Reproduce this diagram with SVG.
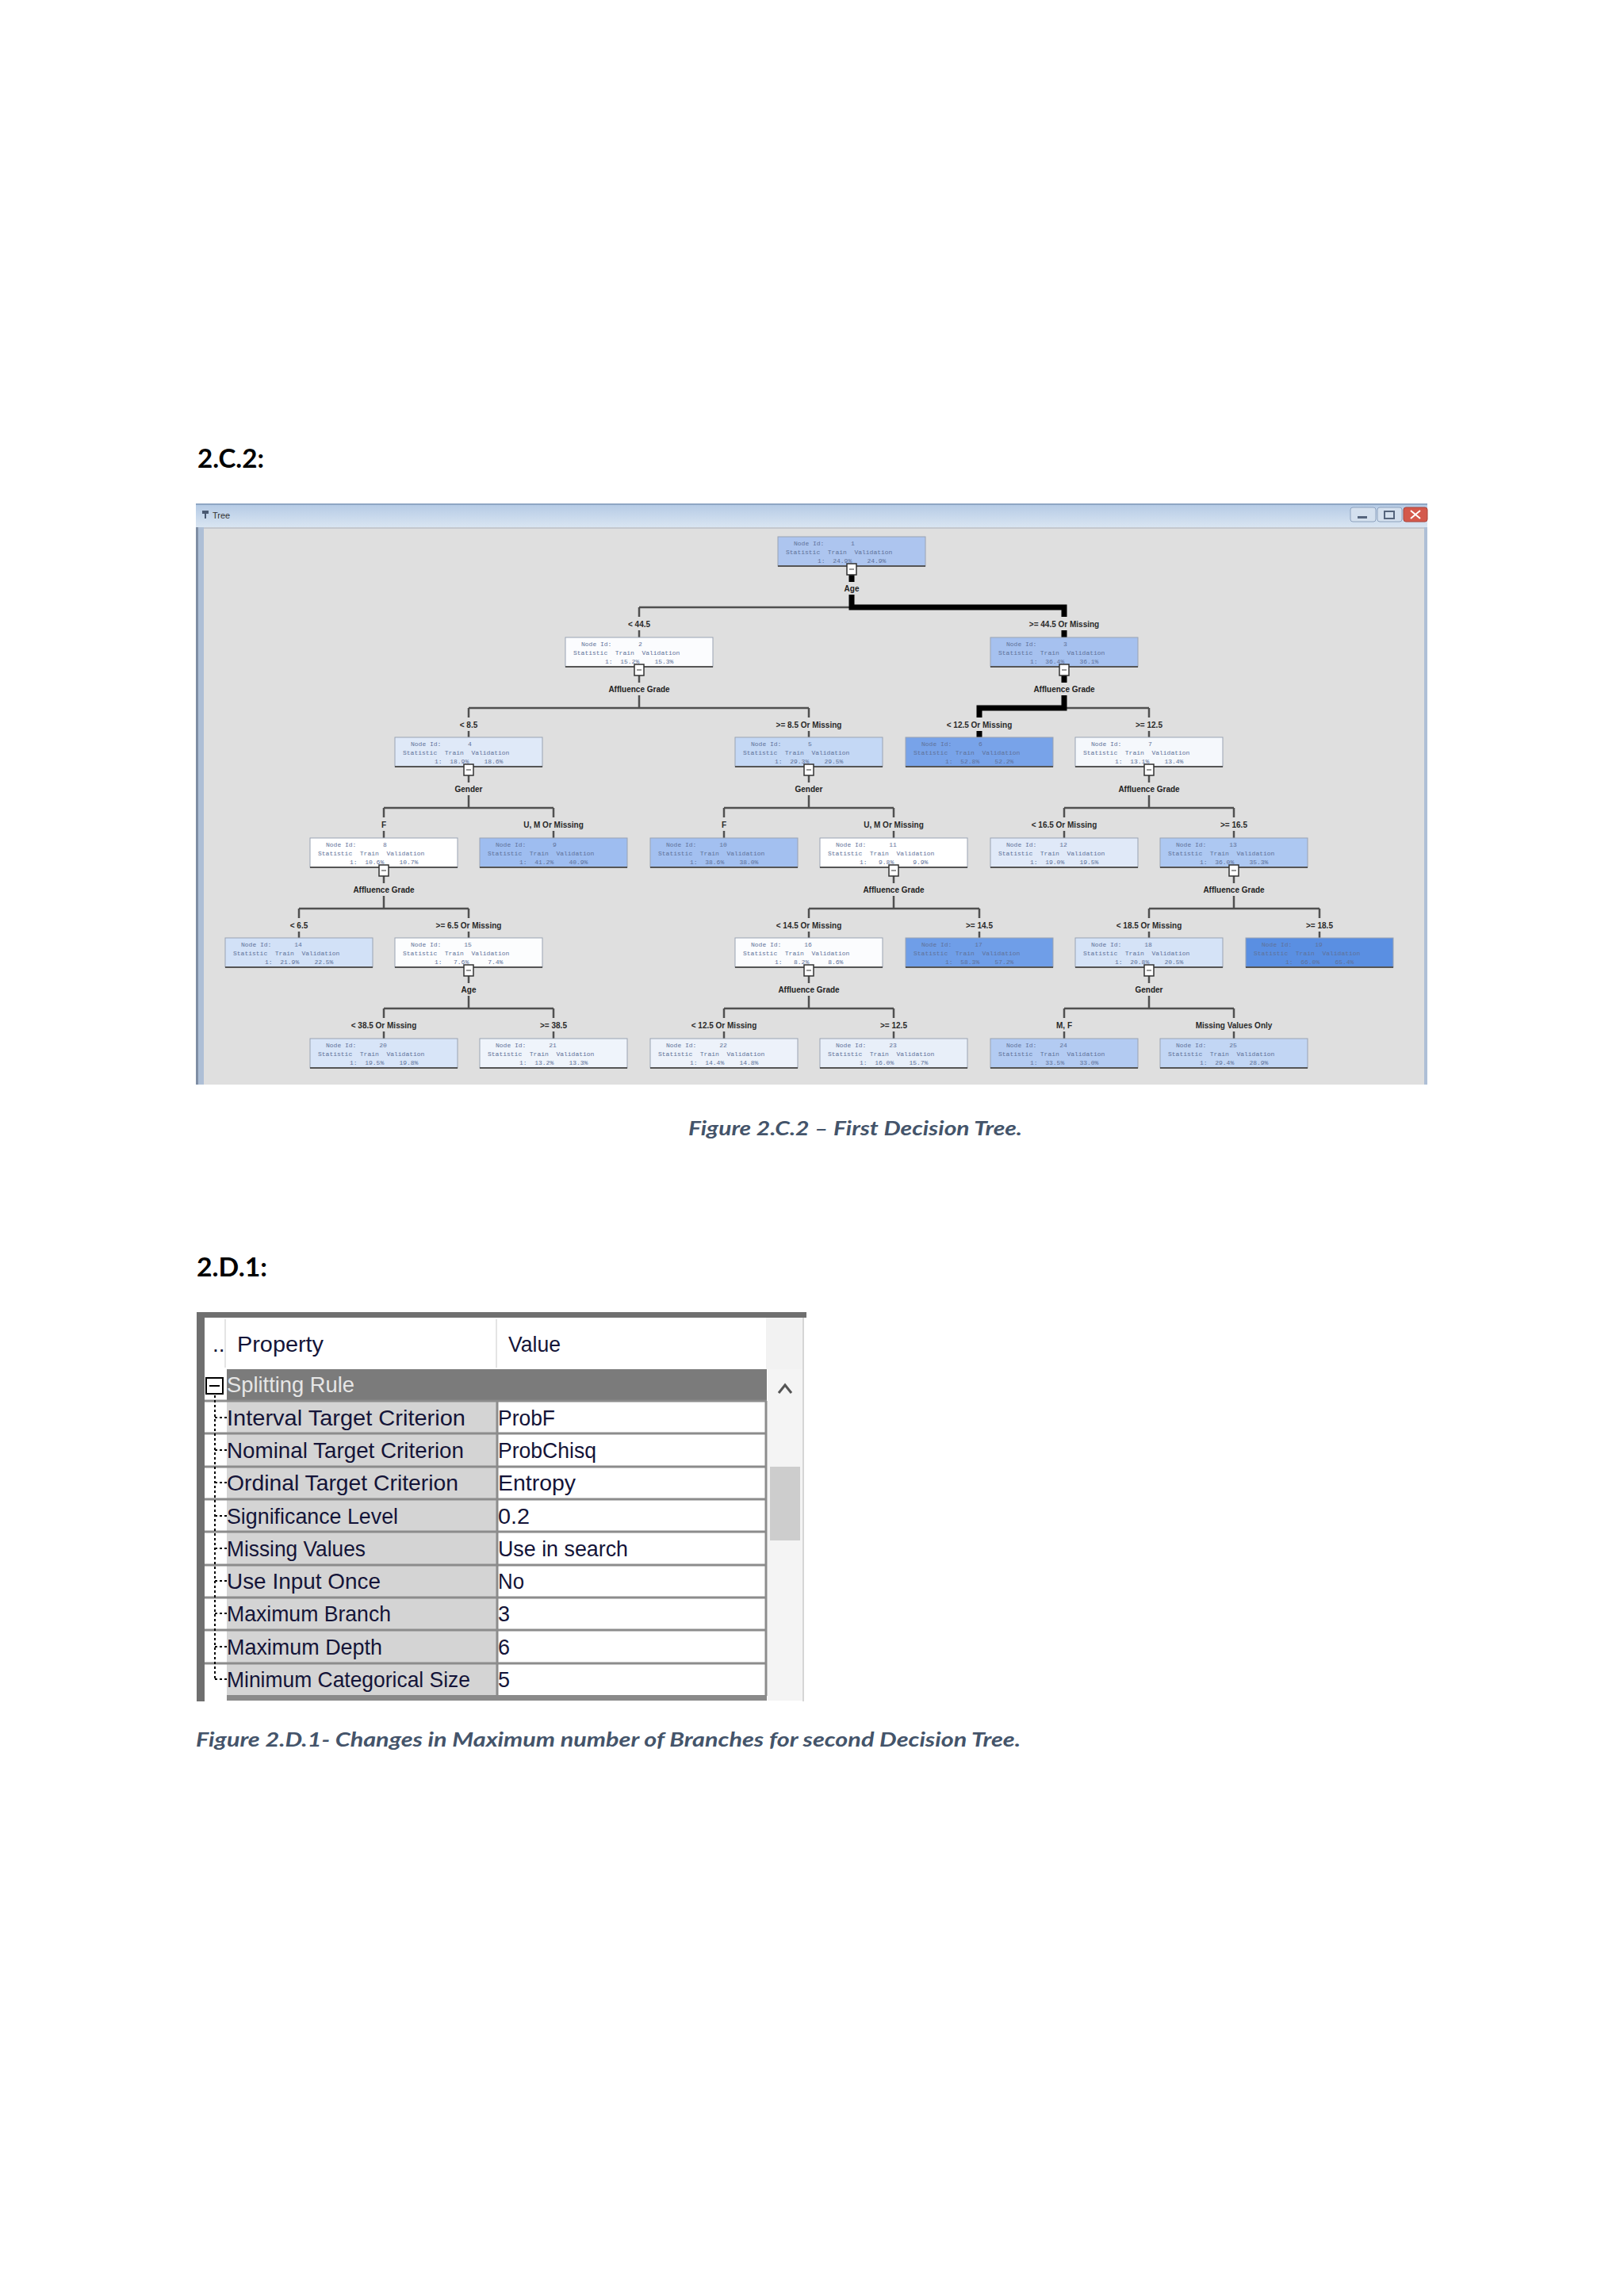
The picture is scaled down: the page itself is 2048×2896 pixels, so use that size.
<svg xmlns="http://www.w3.org/2000/svg" width="2048" height="2896" viewBox="0 0 2048 2896">
<defs>
<linearGradient id="tb" x1="0" y1="0" x2="0" y2="1"><stop offset="0" stop-color="#b3c9e4"/><stop offset="1" stop-color="#d9e5f2"/></linearGradient>
<style>
.h{font-family:Lato,"Open Sans","Liberation Sans",sans-serif;font-weight:bold;font-size:32px;fill:#000}
.cap{font-family:Lato,"Open Sans","Liberation Sans",sans-serif;font-weight:bold;font-style:italic;font-size:24px;fill:#44546A}
.node rect.b{stroke:#9aa3b3;stroke-width:1}
.nt{font-family:"Liberation Mono",monospace;font-size:8px;fill:#5f7299;white-space:pre}
.sl{font-family:"Liberation Sans",Arial,sans-serif;font-size:10px;font-weight:bold;fill:#222;text-anchor:middle}
.el{font-family:"Liberation Sans",Arial,sans-serif;font-size:10px;font-weight:bold;fill:#2a2a2a;text-anchor:middle}
.thin{fill:none;stroke:#505050;stroke-width:2.5}
.thick{fill:none;stroke:#000;stroke-width:7}
.tg{fill:#fff;stroke:#333;stroke-width:1.5}
.tt{font-family:"Liberation Sans",Arial,sans-serif;font-size:28px;fill:#141438}
.grid{stroke:#8c8c8c;stroke-width:3;fill:none}
.dot{stroke:#000;stroke-width:2;stroke-dasharray:3 3;fill:none}
</style>
</defs>
<rect width="2048" height="2896" fill="#fff"/>

<text class="h" x="249" y="590" textLength="84" lengthAdjust="spacingAndGlyphs">2.C.2:</text>

<!-- Tree window -->
<g id="tree-window">
<rect x="247" y="635" width="1553" height="733" fill="#aebfd6"/>
<rect x="247" y="635" width="1553" height="30" fill="url(#tb)"/>
<rect x="247" y="635" width="1553" height="2" fill="#8ea6c4"/>
<path d="M255 644h8v4h-3v6h-2v-6h-3z" fill="#4a5a72"/>
<text x="268" y="654" font-family="Liberation Sans,Arial,sans-serif" font-size="11" fill="#333">Tree</text>
<rect x="1703" y="640" width="32" height="18" rx="3" fill="#d4e0ee" stroke="#8fa3bf"/>
<rect x="1712" y="651" width="12" height="3" fill="#55657d"/>
<rect x="1737" y="640" width="31" height="18" rx="3" fill="#d4e0ee" stroke="#8fa3bf"/>
<rect x="1746" y="645" width="12" height="9" fill="none" stroke="#55657d" stroke-width="2"/>
<rect x="1770" y="640" width="30" height="18" rx="3" fill="#d4594c" stroke="#a8453a"/>
<path d="M1779 644l12 10M1791 644l-12 10" stroke="#fff" stroke-width="2"/>
<rect x="257" y="665" width="1539" height="703" fill="#dfdfdf"/>
<rect x="257" y="665" width="1539" height="2" fill="#c4c8ce"/>
<rect x="247" y="665" width="3" height="703" fill="#7f8ea4"/>
</g>

<g id="connectors">
<path class="thin" d="M1074 725V734M1074 750V766M806 766H1342M806 766V778M806 795V804M1342 766V778M1342 795V804"/>
<path class="thin" d="M806 852V861M806 877V893M591 893H1020M591 893V905M591 922V930M1020 893V905M1020 922V930"/>
<path class="thin" d="M1342 852V861M1342 877V893M1235 893H1449M1235 893V905M1235 922V930M1449 893V905M1449 922V930"/>
<path class="thin" d="M591 978V987M591 1003V1019M484 1019H698M484 1019V1031M484 1048V1057M698 1019V1031M698 1048V1057"/>
<path class="thin" d="M1020 978V987M1020 1003V1019M913 1019H1127M913 1019V1031M913 1048V1057M1127 1019V1031M1127 1048V1057"/>
<path class="thin" d="M1449 978V987M1449 1003V1019M1342 1019H1556M1342 1019V1031M1342 1048V1057M1556 1019V1031M1556 1048V1057"/>
<path class="thin" d="M484 1105V1114M484 1130V1146M377 1146H591M377 1146V1158M377 1175V1183M591 1146V1158M591 1175V1183"/>
<path class="thin" d="M1127 1105V1114M1127 1130V1146M1020 1146H1235M1020 1146V1158M1020 1175V1183M1235 1146V1158M1235 1175V1183"/>
<path class="thin" d="M1556 1105V1114M1556 1130V1146M1449 1146H1664M1449 1146V1158M1449 1175V1183M1664 1146V1158M1664 1175V1183"/>
<path class="thin" d="M591 1231V1240M591 1256V1272M484 1272H698M484 1272V1284M484 1301V1310M698 1272V1284M698 1301V1310"/>
<path class="thin" d="M1020 1231V1240M1020 1256V1272M913 1272H1127M913 1272V1284M913 1301V1310M1127 1272V1284M1127 1301V1310"/>
<path class="thin" d="M1449 1231V1240M1449 1256V1272M1342 1272H1556M1342 1272V1284M1342 1301V1310M1556 1272V1284M1556 1301V1310"/>
<path class="thick" d="M1074 725V734M1074 750V766H1342V778M1342 795V804M1342 852V861M1342 877V893H1235V905M1235 922V930"/>
<!-- split variable labels -->
<text class="sl" x="1074" y="746">Age</text>
<text class="sl" x="806" y="873">Affluence Grade</text>
<text class="sl" x="1342" y="873">Affluence Grade</text>
<text class="sl" x="591" y="999">Gender</text>
<text class="sl" x="1020" y="999">Gender</text>
<text class="sl" x="1449" y="999">Affluence Grade</text>
<text class="sl" x="484" y="1126">Affluence Grade</text>
<text class="sl" x="1127" y="1126">Affluence Grade</text>
<text class="sl" x="1556" y="1126">Affluence Grade</text>
<text class="sl" x="591" y="1252">Age</text>
<text class="sl" x="1020" y="1252">Affluence Grade</text>
<text class="sl" x="1449" y="1252">Gender</text>
<!-- branch labels -->
<text class="el" x="806" y="791">&lt; 44.5</text>
<text class="el" x="1342" y="791">&gt;= 44.5 Or Missing</text>
<text class="el" x="591" y="918">&lt; 8.5</text>
<text class="el" x="1020" y="918">&gt;= 8.5 Or Missing</text>
<text class="el" x="1235" y="918">&lt; 12.5 Or Missing</text>
<text class="el" x="1449" y="918">&gt;= 12.5</text>
<text class="el" x="484" y="1044">F</text>
<text class="el" x="698" y="1044">U, M Or Missing</text>
<text class="el" x="913" y="1044">F</text>
<text class="el" x="1127" y="1044">U, M Or Missing</text>
<text class="el" x="1342" y="1044">&lt; 16.5 Or Missing</text>
<text class="el" x="1556" y="1044">&gt;= 16.5</text>
<text class="el" x="377" y="1171">&lt; 6.5</text>
<text class="el" x="591" y="1171">&gt;= 6.5 Or Missing</text>
<text class="el" x="1020" y="1171">&lt; 14.5 Or Missing</text>
<text class="el" x="1235" y="1171">&gt;= 14.5</text>
<text class="el" x="1449" y="1171">&lt; 18.5 Or Missing</text>
<text class="el" x="1664" y="1171">&gt;= 18.5</text>
<text class="el" x="484" y="1297">&lt; 38.5 Or Missing</text>
<text class="el" x="698" y="1297">&gt;= 38.5</text>
<text class="el" x="913" y="1297">&lt; 12.5 Or Missing</text>
<text class="el" x="1127" y="1297">&gt;= 12.5</text>
<text class="el" x="1342" y="1297">M, F</text>
<text class="el" x="1556" y="1297">Missing Values Only</text>
</g>

<g id="nodes" xml:space="preserve">
<g id="n1" class="node"><rect class="b" x="981" y="677" width="186" height="37" fill="#adc5ef"/><path d="M981 714H1167" stroke="#555" stroke-width="2"/><text class="nt" x="1001" y="688">Node Id:       1</text><text class="nt" x="991" y="699">Statistic  Train  Validation</text><text class="nt" x="1031" y="710">1:  24.9%    24.9%</text><rect class="tg" x="1068" y="711" width="12" height="14"/><path d="M1071 718H1077" stroke="#333"/></g>
<g id="n2" class="node"><rect class="b" x="713" y="804" width="186" height="37" fill="#fbfcfe"/><path d="M713 841H899" stroke="#555" stroke-width="2"/><text class="nt" x="733" y="815">Node Id:       2</text><text class="nt" x="723" y="826">Statistic  Train  Validation</text><text class="nt" x="763" y="837">1:  15.2%    15.3%</text><rect class="tg" x="800" y="838" width="12" height="14"/><path d="M803 845H809" stroke="#333"/></g>
<g id="n3" class="node"><rect class="b" x="1249" y="804" width="186" height="37" fill="#a6c1ef"/><path d="M1249 841H1435" stroke="#555" stroke-width="2"/><text class="nt" x="1269" y="815">Node Id:       3</text><text class="nt" x="1259" y="826">Statistic  Train  Validation</text><text class="nt" x="1299" y="837">1:  36.4%    36.1%</text><rect class="tg" x="1336" y="838" width="12" height="14"/><path d="M1339 845H1345" stroke="#333"/></g>
<g id="n4" class="node"><rect class="b" x="498" y="930" width="186" height="37" fill="#dfe9f8"/><path d="M498 967H684" stroke="#555" stroke-width="2"/><text class="nt" x="518" y="941">Node Id:       4</text><text class="nt" x="508" y="952">Statistic  Train  Validation</text><text class="nt" x="548" y="963">1:  18.9%    18.6%</text><rect class="tg" x="585" y="964" width="12" height="14"/><path d="M588 971H594" stroke="#333"/></g>
<g id="n5" class="node"><rect class="b" x="927" y="930" width="186" height="37" fill="#c4d8f5"/><path d="M927 967H1113" stroke="#555" stroke-width="2"/><text class="nt" x="947" y="941">Node Id:       5</text><text class="nt" x="937" y="952">Statistic  Train  Validation</text><text class="nt" x="977" y="963">1:  29.3%    29.5%</text><rect class="tg" x="1014" y="964" width="12" height="14"/><path d="M1017 971H1023" stroke="#333"/></g>
<g id="n6" class="node"><rect class="b" x="1142" y="930" width="186" height="37" fill="#78a3e9"/><path d="M1142 967H1328" stroke="#555" stroke-width="2"/><text class="nt" x="1162" y="941">Node Id:       6</text><text class="nt" x="1152" y="952">Statistic  Train  Validation</text><text class="nt" x="1192" y="963">1:  52.8%    52.2%</text></g>
<g id="n7" class="node"><rect class="b" x="1356" y="930" width="186" height="37" fill="#f5f8fc"/><path d="M1356 967H1542" stroke="#555" stroke-width="2"/><text class="nt" x="1376" y="941">Node Id:       7</text><text class="nt" x="1366" y="952">Statistic  Train  Validation</text><text class="nt" x="1406" y="963">1:  13.1%    13.4%</text><rect class="tg" x="1443" y="964" width="12" height="14"/><path d="M1446 971H1452" stroke="#333"/></g>
<g id="n8" class="node"><rect class="b" x="391" y="1057" width="186" height="37" fill="#ffffff"/><path d="M391 1094H577" stroke="#555" stroke-width="2"/><text class="nt" x="411" y="1068">Node Id:       8</text><text class="nt" x="401" y="1079">Statistic  Train  Validation</text><text class="nt" x="441" y="1090">1:  10.6%    10.7%</text><rect class="tg" x="478" y="1091" width="12" height="14"/><path d="M481 1098H487" stroke="#333"/></g>
<g id="n9" class="node"><rect class="b" x="605" y="1057" width="186" height="37" fill="#9ebdf0"/><path d="M605 1094H791" stroke="#555" stroke-width="2"/><text class="nt" x="625" y="1068">Node Id:       9</text><text class="nt" x="615" y="1079">Statistic  Train  Validation</text><text class="nt" x="655" y="1090">1:  41.2%    40.9%</text></g>
<g id="n10" class="node"><rect class="b" x="820" y="1057" width="186" height="37" fill="#a3c0f0"/><path d="M820 1094H1006" stroke="#555" stroke-width="2"/><text class="nt" x="840" y="1068">Node Id:      10</text><text class="nt" x="830" y="1079">Statistic  Train  Validation</text><text class="nt" x="870" y="1090">1:  38.6%    38.0%</text></g>
<g id="n11" class="node"><rect class="b" x="1034" y="1057" width="186" height="37" fill="#ffffff"/><path d="M1034 1094H1220" stroke="#555" stroke-width="2"/><text class="nt" x="1054" y="1068">Node Id:      11</text><text class="nt" x="1044" y="1079">Statistic  Train  Validation</text><text class="nt" x="1084" y="1090">1:   9.8%     9.9%</text><rect class="tg" x="1121" y="1091" width="12" height="14"/><path d="M1124 1098H1130" stroke="#333"/></g>
<g id="n12" class="node"><rect class="b" x="1249" y="1057" width="186" height="37" fill="#e0e9f8"/><path d="M1249 1094H1435" stroke="#555" stroke-width="2"/><text class="nt" x="1269" y="1068">Node Id:      12</text><text class="nt" x="1259" y="1079">Statistic  Train  Validation</text><text class="nt" x="1299" y="1090">1:  19.0%    19.5%</text></g>
<g id="n13" class="node"><rect class="b" x="1463" y="1057" width="186" height="37" fill="#adc8f2"/><path d="M1463 1094H1649" stroke="#555" stroke-width="2"/><text class="nt" x="1483" y="1068">Node Id:      13</text><text class="nt" x="1473" y="1079">Statistic  Train  Validation</text><text class="nt" x="1513" y="1090">1:  36.0%    35.3%</text><rect class="tg" x="1550" y="1091" width="12" height="14"/><path d="M1553 1098H1559" stroke="#333"/></g>
<g id="n14" class="node"><rect class="b" x="284" y="1183" width="186" height="37" fill="#d2e1f7"/><path d="M284 1220H470" stroke="#555" stroke-width="2"/><text class="nt" x="304" y="1194">Node Id:      14</text><text class="nt" x="294" y="1205">Statistic  Train  Validation</text><text class="nt" x="334" y="1216">1:  21.9%    22.5%</text></g>
<g id="n15" class="node"><rect class="b" x="498" y="1183" width="186" height="37" fill="#fcfdfe"/><path d="M498 1220H684" stroke="#555" stroke-width="2"/><text class="nt" x="518" y="1194">Node Id:      15</text><text class="nt" x="508" y="1205">Statistic  Train  Validation</text><text class="nt" x="548" y="1216">1:   7.6%     7.4%</text><rect class="tg" x="585" y="1217" width="12" height="14"/><path d="M588 1224H594" stroke="#333"/></g>
<g id="n16" class="node"><rect class="b" x="927" y="1183" width="186" height="37" fill="#fbfcfe"/><path d="M927 1220H1113" stroke="#555" stroke-width="2"/><text class="nt" x="947" y="1194">Node Id:      16</text><text class="nt" x="937" y="1205">Statistic  Train  Validation</text><text class="nt" x="977" y="1216">1:   8.2%     8.6%</text><rect class="tg" x="1014" y="1217" width="12" height="14"/><path d="M1017 1224H1023" stroke="#333"/></g>
<g id="n17" class="node"><rect class="b" x="1142" y="1183" width="186" height="37" fill="#6f9ee8"/><path d="M1142 1220H1328" stroke="#555" stroke-width="2"/><text class="nt" x="1162" y="1194">Node Id:      17</text><text class="nt" x="1152" y="1205">Statistic  Train  Validation</text><text class="nt" x="1192" y="1216">1:  58.3%    57.2%</text></g>
<g id="n18" class="node"><rect class="b" x="1356" y="1183" width="186" height="37" fill="#d5e3f7"/><path d="M1356 1220H1542" stroke="#555" stroke-width="2"/><text class="nt" x="1376" y="1194">Node Id:      18</text><text class="nt" x="1366" y="1205">Statistic  Train  Validation</text><text class="nt" x="1406" y="1216">1:  20.8%    20.5%</text><rect class="tg" x="1443" y="1217" width="12" height="14"/><path d="M1446 1224H1452" stroke="#333"/></g>
<g id="n19" class="node"><rect class="b" x="1571" y="1183" width="186" height="37" fill="#5a8fe2"/><path d="M1571 1220H1757" stroke="#555" stroke-width="2"/><text class="nt" x="1591" y="1194">Node Id:      19</text><text class="nt" x="1581" y="1205">Statistic  Train  Validation</text><text class="nt" x="1621" y="1216">1:  66.0%    65.4%</text></g>
<g id="n20" class="node"><rect class="b" x="391" y="1310" width="186" height="37" fill="#d8e5f8"/><path d="M391 1347H577" stroke="#555" stroke-width="2"/><text class="nt" x="411" y="1321">Node Id:      20</text><text class="nt" x="401" y="1332">Statistic  Train  Validation</text><text class="nt" x="441" y="1343">1:  19.5%    19.8%</text></g>
<g id="n21" class="node"><rect class="b" x="605" y="1310" width="186" height="37" fill="#eff4fb"/><path d="M605 1347H791" stroke="#555" stroke-width="2"/><text class="nt" x="625" y="1321">Node Id:      21</text><text class="nt" x="615" y="1332">Statistic  Train  Validation</text><text class="nt" x="655" y="1343">1:  13.2%    13.3%</text></g>
<g id="n22" class="node"><rect class="b" x="820" y="1310" width="186" height="37" fill="#edf2fa"/><path d="M820 1347H1006" stroke="#555" stroke-width="2"/><text class="nt" x="840" y="1321">Node Id:      22</text><text class="nt" x="830" y="1332">Statistic  Train  Validation</text><text class="nt" x="870" y="1343">1:  14.4%    14.8%</text></g>
<g id="n23" class="node"><rect class="b" x="1034" y="1310" width="186" height="37" fill="#e8eff9"/><path d="M1034 1347H1220" stroke="#555" stroke-width="2"/><text class="nt" x="1054" y="1321">Node Id:      23</text><text class="nt" x="1044" y="1332">Statistic  Train  Validation</text><text class="nt" x="1084" y="1343">1:  16.0%    15.7%</text></g>
<g id="n24" class="node"><rect class="b" x="1249" y="1310" width="186" height="37" fill="#b3cbf2"/><path d="M1249 1347H1435" stroke="#555" stroke-width="2"/><text class="nt" x="1269" y="1321">Node Id:      24</text><text class="nt" x="1259" y="1332">Statistic  Train  Validation</text><text class="nt" x="1299" y="1343">1:  33.5%    33.0%</text></g>
<g id="n25" class="node"><rect class="b" x="1463" y="1310" width="186" height="37" fill="#c2d6f4"/><path d="M1463 1347H1649" stroke="#555" stroke-width="2"/><text class="nt" x="1483" y="1321">Node Id:      25</text><text class="nt" x="1473" y="1332">Statistic  Train  Validation</text><text class="nt" x="1513" y="1343">1:  29.4%    28.9%</text></g>
</g>

<text class="cap" x="868" y="1432" textLength="421" lengthAdjust="spacingAndGlyphs">Figure 2.C.2 – First Decision Tree.</text>

<text class="h" x="248" y="1610" textLength="89" lengthAdjust="spacingAndGlyphs">2.D.1:</text>

<!-- Property table -->
<g id="property-table">
<rect x="258" y="1662" width="755" height="484" fill="#fff"/>
<rect x="966" y="1662" width="46" height="65" fill="#f2f2f2"/>
<rect x="968" y="1727" width="44" height="418" fill="#f4f4f4"/>
<rect x="971" y="1850" width="38" height="93" fill="#cdcdcd"/>
<path d="M982 1757L990 1747L998 1757" fill="none" stroke="#555" stroke-width="3"/>
<path d="M1013 1662V2146" stroke="#d6d6d6" stroke-width="2"/>
<path d="M284 1664V1725M626 1664V1725" stroke="#e4e4e4" stroke-width="2"/>
<text class="tt" x="268" y="1705">..</text>
<text class="tt" x="299" y="1705" textLength="109" lengthAdjust="spacingAndGlyphs">Property</text>
<text class="tt" x="641" y="1705" textLength="66" lengthAdjust="spacingAndGlyphs">Value</text>
<rect x="286" y="1727" width="681" height="40" fill="#7b7b7b"/>
<rect x="260" y="1738" width="21" height="20" fill="#fff" stroke="#000" stroke-width="2"/>
<path d="M264 1748H277" stroke="#000" stroke-width="2"/>
<text class="tt" x="286" y="1756" style="fill:#e6e6e6" textLength="161" lengthAdjust="spacingAndGlyphs">Splitting Rule</text>
<rect x="286" y="1767" width="340" height="372" fill="#d4d4d4"/>
<rect x="627" y="1767" width="339" height="372" fill="#fff"/>
<path class="grid" d="M258 1767H967M258 1808H967M258 1850H967M258 1891H967M258 1932H967M258 1974H967M258 2015H967M258 2056H967M258 2098H967M627 1767V2139M966 1767V2139"/>
<rect x="286" y="2138" width="681" height="7" fill="#8a8a8a"/>
<path class="dot" d="M271 1760V2118"/>
<path class="dot" d="M271 1788H286M271 1829H286M271 1870H286M271 1912H286M271 1953H286M271 1994H286M271 2035H286M271 2077H286M271 2118H286"/>
<text class="tt" x="286" y="1798" textLength="301" lengthAdjust="spacingAndGlyphs">Interval Target Criterion</text>
<text class="tt" x="628" y="1798" textLength="72" lengthAdjust="spacingAndGlyphs">ProbF</text>
<text class="tt" x="286" y="1839" textLength="299" lengthAdjust="spacingAndGlyphs">Nominal Target Criterion</text>
<text class="tt" x="628" y="1839" textLength="124" lengthAdjust="spacingAndGlyphs">ProbChisq</text>
<text class="tt" x="286" y="1880" textLength="292" lengthAdjust="spacingAndGlyphs">Ordinal Target Criterion</text>
<text class="tt" x="628" y="1880" textLength="98" lengthAdjust="spacingAndGlyphs">Entropy</text>
<text class="tt" x="286" y="1922" textLength="216" lengthAdjust="spacingAndGlyphs">Significance Level</text>
<text class="tt" x="628" y="1922" textLength="40" lengthAdjust="spacingAndGlyphs">0.2</text>
<text class="tt" x="286" y="1963" textLength="175" lengthAdjust="spacingAndGlyphs">Missing Values</text>
<text class="tt" x="628" y="1963" textLength="164" lengthAdjust="spacingAndGlyphs">Use in search</text>
<text class="tt" x="286" y="2004" textLength="194" lengthAdjust="spacingAndGlyphs">Use Input Once</text>
<text class="tt" x="628" y="2004" textLength="33" lengthAdjust="spacingAndGlyphs">No</text>
<text class="tt" x="286" y="2045" textLength="207" lengthAdjust="spacingAndGlyphs">Maximum Branch</text>
<text class="tt" x="628" y="2045" textLength="15" lengthAdjust="spacingAndGlyphs">3</text>
<text class="tt" x="286" y="2087" textLength="196" lengthAdjust="spacingAndGlyphs">Maximum Depth</text>
<text class="tt" x="628" y="2087" textLength="15" lengthAdjust="spacingAndGlyphs">6</text>
<text class="tt" x="286" y="2128" textLength="307" lengthAdjust="spacingAndGlyphs">Minimum Categorical Size</text>
<text class="tt" x="628" y="2128" textLength="15" lengthAdjust="spacingAndGlyphs">5</text>
<rect x="248" y="1655" width="769" height="7" fill="#6f6f6f"/>
<rect x="248" y="1655" width="10" height="491" fill="#6f6f6f"/>
</g>

<text class="cap" x="247" y="2203" textLength="1040" lengthAdjust="spacingAndGlyphs">Figure 2.D.1- Changes in Maximum number of Branches for second Decision Tree.</text>
</svg>
